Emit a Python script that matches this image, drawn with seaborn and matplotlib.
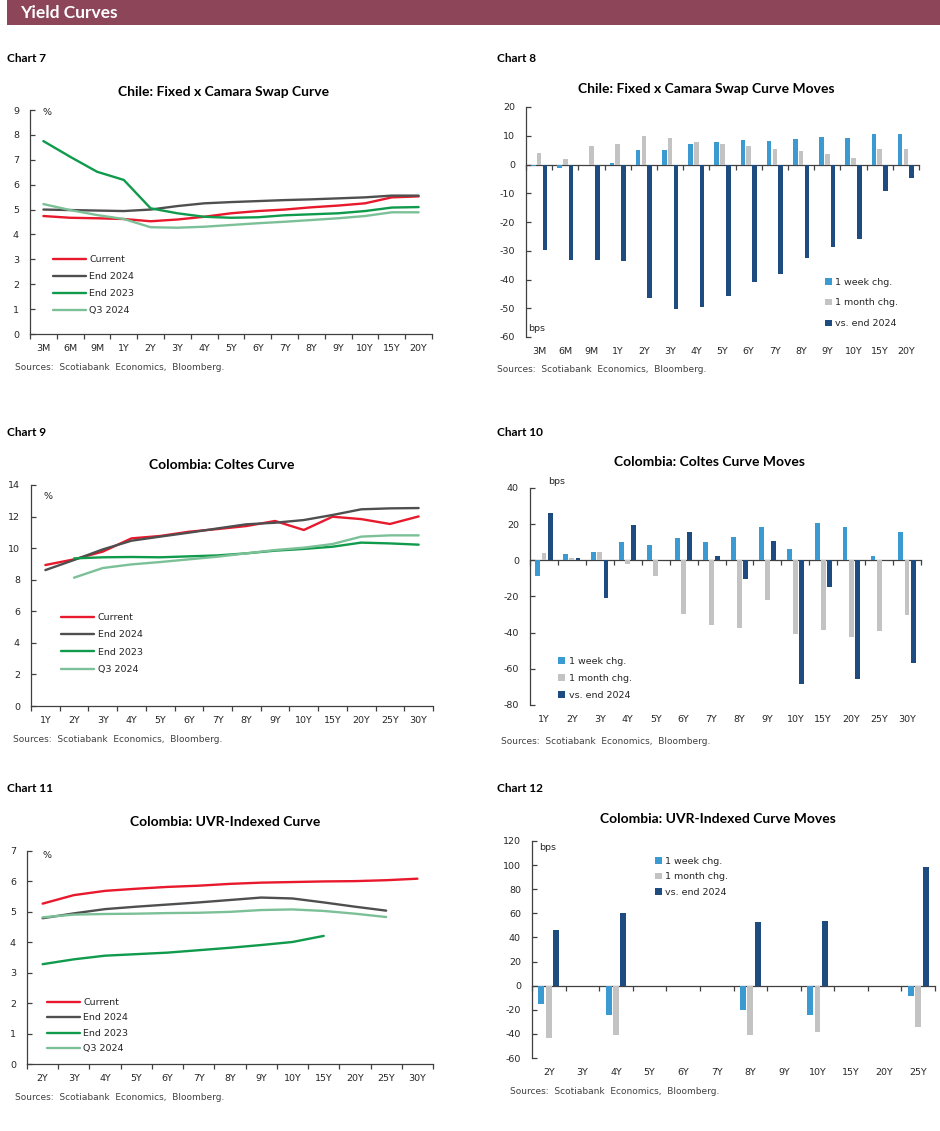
import numpy as np
import pandas as pd
import matplotlib
matplotlib.use("Agg")
import matplotlib.pyplot as plt
import seaborn as sns
from matplotlib.patches import Rectangle

nan = np.nan

# ---------------- data ----------------
# Chart 7 / 8 : Chile Fixed x Camara swap curve
chile_tenors = ["3M", "6M", "9M", "1Y", "2Y", "3Y", "4Y", "5Y", "6Y", "7Y", "8Y", "9Y", "10Y", "15Y", "20Y"]
chile_current = [4.74, 4.67, 4.65, 4.62, 4.53, 4.60, 4.71, 4.85, 4.94, 5.00, 5.09, 5.16, 5.25, 5.49, 5.53]
chile_end2024 = [5.00, 4.98, 4.96, 4.94, 5.00, 5.14, 5.25, 5.30, 5.34, 5.38, 5.41, 5.45, 5.49, 5.56, 5.56]
chile_end2023 = [7.75, 7.12, 6.52, 6.19, 5.05, 4.85, 4.71, 4.67, 4.69, 4.77, 4.81, 4.85, 4.94, 5.08, 5.10]
chile_q32024 = [5.22, 4.98, 4.78, 4.62, 4.29, 4.27, 4.31, 4.38, 4.45, 4.51, 4.58, 4.65, 4.74, 4.89, 4.89]

chile_week = [-0.6, -1.1, 0.0, 0.5, 5.0, 5.0, 7.1, 7.8, 8.6, 8.2, 9.0, 9.4, 9.3, 10.6, 10.6]
chile_month = [4.1, 2.0, 6.3, 7.2, 9.9, 9.1, 7.9, 7.2, 6.3, 5.5, 4.7, 3.5, 2.4, 5.5, 5.5]
chile_ytd = [-29.9, -33.1, -33.1, -33.4, -46.3, -50.3, -49.6, -45.6, -40.9, -38.2, -32.6, -28.7, -25.9, -9.3, -4.6]

# Chart 9 / 10 : Colombia Coltes curve
coltes_tenors = ["1Y", "2Y", "3Y", "4Y", "5Y", "6Y", "7Y", "8Y", "9Y", "10Y", "15Y", "20Y", "25Y", "30Y"]
coltes_current = [8.93, 9.29, 9.78, 10.62, 10.77, 11.04, 11.21, 11.40, 11.72, 11.15, 11.99, 11.84, 11.53, 12.01]
coltes_end2024 = [8.61, 9.25, 9.92, 10.47, 10.73, 10.98, 11.25, 11.51, 11.61, 11.78, 12.10, 12.46, 12.52, 12.54]
coltes_end2023 = [nan, 9.35, 9.42, 9.44, 9.42, 9.48, 9.54, 9.67, 9.84, 9.95, 10.09, 10.35, 10.30, 10.22]
coltes_q32024 = [nan, 8.13, 8.74, 8.97, 9.12, 9.29, 9.46, 9.67, 9.88, 10.03, 10.26, 10.73, 10.81, 10.81]

coltes_week = [-8.4, 3.3, 4.6, 10.3, 8.3, 12.1, 10.3, 12.7, 18.4, 6.0, 20.8, 18.4, 2.5, 15.8]
coltes_month = [4.0, 1.4, 4.6, -2.1, -8.9, -29.6, -35.9, -37.2, -22.1, -40.8, -38.5, -42.3, -39.0, -30.3]
coltes_ytd = [26.3, 1.4, -20.7, 19.7, 0.0, 15.8, 2.5, -10.4, 10.8, -68.5, -15.0, -65.4, 0.0, -56.5]

# Chart 11 : Colombia UVR-indexed curve
uvr_tenors = ["2Y", "3Y", "4Y", "5Y", "6Y", "7Y", "8Y", "9Y", "10Y", "15Y", "20Y", "25Y", "30Y"]
uvr_current = [5.27, 5.55, 5.69, 5.76, 5.82, 5.86, 5.92, 5.96, 5.98, 6.00, 6.01, 6.04, 6.09]
uvr_end2024 = [4.79, 4.95, 5.09, 5.17, 5.24, 5.31, 5.39, 5.47, 5.44, 5.31, 5.17, 5.04, nan]
uvr_end2023 = [3.28, 3.44, 3.56, 3.61, 3.66, 3.74, 3.82, 3.91, 4.01, 4.21, nan, nan, nan]
uvr_q32024 = [4.82, 4.91, 4.93, 4.94, 4.96, 4.97, 5.00, 5.06, 5.08, 5.03, 4.94, 4.83, nan]

# Chart 12 : Colombia UVR-indexed curve moves
uvr_move_tenors = ["2Y", "3Y", "4Y", "5Y", "6Y", "7Y", "8Y", "9Y", "10Y", "15Y", "20Y", "25Y"]
uvr_week = [-15.1, nan, -24.7, nan, nan, nan, -20.0, nan, -24.7, nan, nan, -8.2]
uvr_month = [-43.5, nan, -40.7, nan, nan, nan, -40.7, nan, -38.8, nan, nan, -34.4]
uvr_ytd = [46.1, nan, 60.0, nan, nan, nan, 52.5, nan, 53.6, nan, nan, 98.5]

line_names = ["Current", "End 2024", "End 2023", "Q3 2024"]
line_colors = {"Current": "#E8192C", "End 2024": "#4F4F4F",
               "End 2023": "#0F9A4C", "Q3 2024": "#7CC097"}
bar_names = ["1 week chg.", "1 month chg.", "vs. end 2024"]
bar_colors = {"1 week chg.": "#3C9AD3", "1 month chg.": "#C3C3C3", "vs. end 2024": "#1F4C80"}

# ---------------- style ----------------
sns.set_theme(style="ticks")
plt.rcParams["font.family"] = ["DejaVu Sans"]
plt.rcParams["axes.unicode_minus"] = False

AX_COL = "#404040"
TXT_COL = "#262626"
TICK_FS = 6.8

W, H = 940, 1131
fig = plt.figure(figsize=(W / 100, H / 100), dpi=100)


def px_axes(l, t, r, b):
    return fig.add_axes([l / W, 1 - b / H, (r - l) / W, (b - t) / H])


def fig_text(x, y, s, **kw):
    fig.text(x / W, 1 - y / H, s, **kw)


def base_style(ax, tenors, ylim, ystep):
    n = len(tenors)
    sns.despine(ax=ax)
    for sp in ["left", "bottom"]:
        ax.spines[sp].set_color(AX_COL)
        ax.spines[sp].set_linewidth(0.9)
    ax.set_xlim(-0.5, n - 0.5)
    ax.set_ylim(*ylim)
    ax.set_yticks(np.arange(ylim[0], ylim[1] + ystep / 2, ystep))
    ax.set_xlabel("")
    ax.set_ylabel("")
    ax.tick_params(axis="y", direction="in", length=3.5, width=0.9, color=AX_COL,
                   labelsize=TICK_FS, labelcolor=TXT_COL, pad=8)
    ax.set_facecolor("none")


def line_chart(ax, tenors, curves, ylim, ystep, leg_xy, leg_space, unit_xy):
    rows = []
    for name, vals in zip(line_names, curves):
        for i, v in enumerate(vals):
            rows.append({"pos": i, "value": v, "series": name})
    df = pd.DataFrame(rows).dropna()
    sns.lineplot(data=df, x="pos", y="value", hue="series", hue_order=line_names,
                 palette=line_colors, linewidth=1.7, ax=ax)
    base_style(ax, tenors, ylim, ystep)
    n = len(tenors)
    ax.set_xticks(range(n), tenors)
    ax.set_xticks(np.arange(n + 1) - 0.5, minor=True)
    ax.tick_params(axis="x", which="major", length=0, pad=7, labelsize=TICK_FS, labelcolor=TXT_COL)
    ax.tick_params(axis="x", which="minor", direction="out", length=3.5, width=0.9, color=AX_COL)
    h, l = ax.get_legend_handles_labels()
    ax.legend(h, l, loc="upper left", bbox_to_anchor=leg_xy, frameon=False,
              borderpad=0, borderaxespad=0, handlelength=3.5, handletextpad=0.35,
              labelspacing=leg_space, fontsize=TICK_FS, labelcolor=TXT_COL)
    ax.text(unit_xy[0], unit_xy[1], "%", transform=ax.transAxes, fontsize=TICK_FS,
            color=TXT_COL, ha="left", va="center")


def bar_chart(ax, tenors, week, month, ytd, ylim, ystep, leg_xy, leg_space, unit_xy):
    df = pd.DataFrame({
        "tenor": tenors * 3,
        "bps": list(week) + list(month) + list(ytd),
        "series": [bar_names[0]] * len(tenors) + [bar_names[1]] * len(tenors) + [bar_names[2]] * len(tenors),
    })
    sns.barplot(data=df, x="tenor", y="bps", hue="series", order=tenors, hue_order=bar_names,
                palette=bar_colors, width=0.66, gap=0.2, errorbar=None, linewidth=0,
                saturation=1, ax=ax)
    base_style(ax, tenors, ylim, ystep)
    n = len(tenors)
    ax.spines["bottom"].set_visible(False)
    ax.set_xticks(range(n), tenors)
    ax.tick_params(axis="x", which="both", length=0, pad=7, labelsize=TICK_FS, labelcolor=TXT_COL)
    # category axis line sits at zero
    zero_ax = ax.secondary_xaxis(0, transform=ax.transData)
    zero_ax.set_xticks(np.arange(n + 1) - 0.5, [""] * (n + 1))
    zero_ax.tick_params(axis="x", direction="out", length=3.5, width=0.9, color=AX_COL)
    zero_ax.spines["bottom"].set_color(AX_COL)
    zero_ax.spines["bottom"].set_linewidth(0.9)
    h, l = ax.get_legend_handles_labels()
    ax.legend(h, l, loc="upper left", bbox_to_anchor=leg_xy, frameon=False,
              borderpad=0, borderaxespad=0, handlelength=0.7, handleheight=0.7,
              handletextpad=0.4, labelspacing=leg_space, fontsize=TICK_FS, labelcolor=TXT_COL)
    ax.text(unit_xy[0], unit_xy[1], "bps", transform=ax.transAxes, fontsize=TICK_FS,
            color=TXT_COL, ha="left", va="center", clip_on=False)


# ---------------- page furniture ----------------
fig.add_artist(Rectangle((7 / W, 1 - 25 / H), 933 / W, 25 / H, transform=fig.transFigure,
                         facecolor="#8C4559", edgecolor="none"))
fig_text(20, 13, "Yield Curves", color="white", fontsize=12.5, fontweight="bold",
         family=["Lato", "DejaVu Sans"], va="center", ha="left")

for x, y, s in [(7, 59, "Chart 7"), (497, 59, "Chart 8"), (7, 432, "Chart 9"),
                (497, 432, "Chart 10"), (7, 789, "Chart 11"), (497, 789, "Chart 12")]:
    fig_text(x, y, s, fontsize=8.5, fontweight="bold", family=["Lato", "DejaVu Sans"],
             va="center", ha="left", color="black")

titles = [(224, 92, "Chile: Fixed x Camara Swap Curve"),
          (706, 89, "Chile: Fixed x Camara Swap Curve Moves"),
          (222, 465, "Colombia: Coltes Curve"),
          (710, 462, "Colombia: Coltes Curve Moves"),
          (225, 822, "Colombia: UVR-Indexed Curve"),
          (718, 819, "Colombia: UVR-Indexed Curve Moves")]
for x, y, s in titles:
    fig_text(x, y, s, fontsize=10, fontweight="bold", family=["Lato", "DejaVu Sans"],
             va="center", ha="center", color="black")

src = "Sources:  Scotiabank  Economics,  Bloomberg."
for x, y in [(15, 367), (497, 369), (13, 740), (501, 742), (15, 1097), (510, 1092)]:
    fig_text(x, y, src, fontsize=6.5, color="#404040", va="center", ha="left")

# ---------------- charts ----------------
ax7 = px_axes(30, 110, 432, 334)
line_chart(ax7, chile_tenors, [chile_current, chile_end2024, chile_end2023, chile_q32024],
           (0, 9), 1, (0.057, 0.352), 0.85, (0.032, 0.987))

ax8 = px_axes(526, 107, 919, 337)
bar_chart(ax8, chile_tenors, chile_week, chile_month, chile_ytd,
          (-60, 20), 10, (0.761, 0.258), 1.25, (0.005, 0.035))

ax9 = px_axes(31, 485, 433, 706)
line_chart(ax9, coltes_tenors, [coltes_current, coltes_end2024, coltes_end2023, coltes_q32024],
           (0, 14), 2, (0.075, 0.42), 0.88, (0.03, 0.946))

ax10 = px_axes(530, 488, 921, 705)
bar_chart(ax10, coltes_tenors, coltes_week, coltes_month, coltes_ytd,
          (-80, 40), 20, (0.072, 0.222), 0.85, (0.046, 1.028))

ax11 = px_axes(27, 851, 433, 1064)
line_chart(ax11, uvr_tenors, [uvr_current, uvr_end2024, uvr_end2023, uvr_q32024],
           (0, 7), 1, (0.049, 0.31), 0.68, (0.039, 0.977))

ax12 = px_axes(532, 841, 935, 1058)
bar_chart(ax12, uvr_move_tenors, uvr_week, uvr_month, uvr_ytd,
          (-60, 120), 20, (0.305, 0.928), 0.7, (0.017, 0.968))

fig.savefig("out.png", dpi=100, facecolor="white")
